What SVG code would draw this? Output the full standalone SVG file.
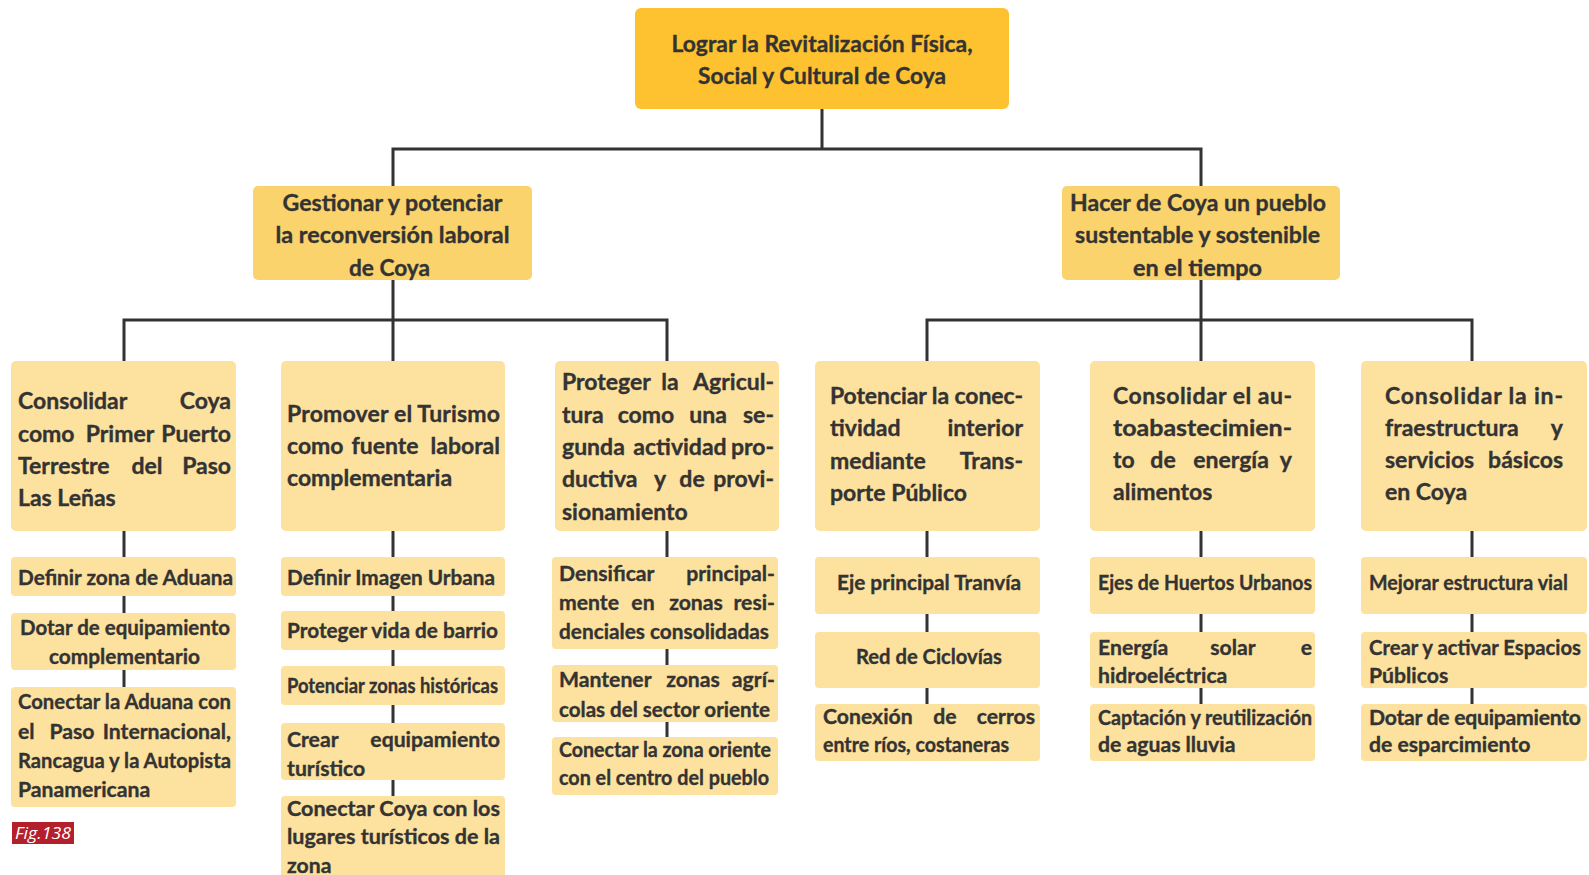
<svg xmlns="http://www.w3.org/2000/svg" width="1589" height="875" viewBox="0 0 1589 875">
<style>
.c0{fill:#FEC230}
.c1{fill:#FBD36C}
.c2{fill:#FDE19E}
text{font-family:Lato,"Open Sans","Liberation Sans",sans-serif;font-weight:700;fill:#333333;stroke:#333333;stroke-width:0.35px}
.s2{font-size:22.5px}
.s3{font-size:23px}
.s4{font-size:21.2px}
.m{text-anchor:middle}
.e{text-anchor:end}
.fig{font-family:"Open Sans","Liberation Sans",sans-serif;font-weight:400;font-style:italic;font-size:17px;fill:#ffffff;stroke:none}
</style>
<rect width="1589" height="875" fill="#ffffff"/>
<g id="connectors" stroke="#333333" stroke-width="3" fill="none">
<path d="M822 109V149M393 186V149H1201V186"/>
<path d="M393 280V320M124 361V320H667V361M393 320V361"/>
<path d="M1201 280V320M927 361V320H1472V361M1201 320V361"/>
<path d="M124 531V687M393 531V796M667 531V737M927 531V704M1201 531V704M1472 531V704"/>
</g>
<g id="goal">
<rect class="c0" x="635" y="8" width="374" height="101" rx="6"/>
<text class="s2 m" x="822" y="52" textLength="301" lengthAdjust="spacingAndGlyphs">Lograr la Revitalización Física,</text>
<text class="s2 m" x="822" y="84" textLength="248" lengthAdjust="spacingAndGlyphs">Social y Cultural de Coya</text>
</g>
<g id="obj-laboral">
<rect class="c1" x="253" y="186" width="279" height="94" rx="5"/>
<text class="s2 m" x="392.5" y="211" textLength="220" lengthAdjust="spacingAndGlyphs">Gestionar y potenciar</text>
<text class="s2 m" x="392.5" y="243" textLength="234" lengthAdjust="spacingAndGlyphs">la reconversión laboral</text>
<text class="s2 m" x="389.5" y="276" textLength="81" lengthAdjust="spacingAndGlyphs">de Coya</text>
</g>
<g id="obj-sustentable">
<rect class="c1" x="1062" y="186" width="278" height="94" rx="5"/>
<text class="s2 m" x="1198" y="211" textLength="256" lengthAdjust="spacingAndGlyphs">Hacer de Coya un pueblo</text>
<text class="s2 m" x="1197.5" y="243" textLength="245" lengthAdjust="spacingAndGlyphs">sustentable y sostenible</text>
<text class="s2 m" x="1197.5" y="276" textLength="129" lengthAdjust="spacingAndGlyphs">en el tiempo</text>
</g>
<g id="a">
<rect class="c2" x="11" y="361" width="225" height="170" rx="5"/>
<text class="s3" x="18" y="409">Consolidar</text><text class="s3 e" x="231" y="409">Coya</text>
<text class="s3" x="18" y="442">como</text><text class="s3 m" x="120" y="442">Primer</text><text class="s3 e" x="231" y="442">Puerto</text>
<text class="s3" x="18" y="474">Terrestre</text><text class="s3 m" x="147" y="474">del</text><text class="s3 e" x="231" y="474">Paso</text>
<text class="s3" x="18" y="506">Las Leñas</text>
</g>
<g id="b">
<rect class="c2" x="281" y="361" width="224" height="170" rx="5"/>
<text class="s3" x="287" y="422" textLength="213" lengthAdjust="spacing">Promover el Turismo</text>
<text class="s3" x="287" y="454">como</text><text class="s3 m" x="385" y="454">fuente</text><text class="s3 e" x="500" y="454">laboral</text>
<text class="s3" x="287" y="486">complementaria</text>
</g>
<g id="c">
<rect class="c2" x="555" y="361" width="224" height="170" rx="5"/>
<text class="s3" x="562" y="390">Proteger</text><text class="s3 m" x="670" y="390">la</text><text class="s3 e" x="774" y="390">Agricul-</text>
<text class="s3" x="562" y="423">tura</text><text class="s3 m" x="646" y="423">como</text><text class="s3 m" x="708" y="423">una</text><text class="s3 e" x="774" y="423">se-</text>
<text class="s3" x="562" y="455">gunda</text><text class="s3 m" x="680" y="455">actividad</text><text class="s3 e" x="774" y="455">pro-</text>
<text class="s3" x="562" y="487">ductiva</text><text class="s3 m" x="660" y="487">y</text><text class="s3 m" x="692" y="487">de</text><text class="s3 e" x="774" y="487">provi-</text>
<text class="s3" x="562" y="520">sionamiento</text>
</g>
<g id="d">
<rect class="c2" x="815" y="361" width="225" height="170" rx="5"/>
<text class="s3" x="830" y="404" textLength="193" lengthAdjust="spacing">Potenciar la conec-</text>
<text class="s3" x="830" y="436">tividad</text><text class="s3 e" x="1023" y="436">interior</text>
<text class="s3" x="830" y="469">mediante</text><text class="s3 e" x="1023" y="469">Trans-</text>
<text class="s3" x="830" y="501">porte Público</text>
</g>
<g id="e">
<rect class="c2" x="1090" y="361" width="225" height="170" rx="5"/>
<text class="s3" x="1113" y="404" textLength="179" lengthAdjust="spacing">Consolidar el au-</text>
<text class="s3" x="1113" y="436" textLength="179" lengthAdjust="spacingAndGlyphs">toabastecimien-</text>
<text class="s3" x="1113" y="468">to</text><text class="s3 m" x="1163" y="468">de</text><text class="s3 m" x="1231" y="468">energía</text><text class="s3 e" x="1292" y="468">y</text>
<text class="s3" x="1113" y="500">alimentos</text>
</g>
<g id="f">
<rect class="c2" x="1361" y="361" width="226" height="170" rx="5"/>
<text class="s3" x="1385" y="404" textLength="178" lengthAdjust="spacing">Consolidar la in-</text>
<text class="s3" x="1385" y="436">fraestructura</text><text class="s3 e" x="1563" y="436">y</text>
<text class="s3" x="1385" y="468">servicios</text><text class="s3 e" x="1563" y="468">básicos</text>
<text class="s3" x="1385" y="500">en Coya</text>
</g>
<g id="a1">
<rect class="c2" x="11" y="557" width="225" height="39" rx="4"/>
<text class="s4" x="18" y="585" textLength="215" lengthAdjust="spacingAndGlyphs">Definir zona de Aduana</text>
</g>
<g id="a2">
<rect class="c2" x="11" y="613" width="225" height="57" rx="4"/>
<text class="s4 m" x="125" y="635" textLength="210" lengthAdjust="spacingAndGlyphs">Dotar de equipamiento</text>
<text class="s4 m" x="124.5" y="664" textLength="151" lengthAdjust="spacingAndGlyphs">complementario</text>
</g>
<g id="a3">
<rect class="c2" x="11" y="687" width="225" height="120" rx="4"/>
<text class="s4" x="18" y="709" textLength="213" lengthAdjust="spacingAndGlyphs">Conectar la Aduana con</text>
<text class="s4" x="18" y="739">el</text><text class="s4 m" x="72" y="739">Paso</text><text class="s4 e" x="231" y="739">Internacional,</text>
<text class="s4" x="18" y="768" textLength="213" lengthAdjust="spacingAndGlyphs">Rancagua y la Autopista</text>
<text class="s4" x="18" y="797">Panamericana</text>
</g>
<g id="b1">
<rect class="c2" x="281" y="557" width="224" height="39" rx="4"/>
<text class="s4" x="287" y="585" textLength="208" lengthAdjust="spacingAndGlyphs">Definir Imagen Urbana</text>
</g>
<g id="b2">
<rect class="c2" x="281" y="611" width="224" height="39" rx="4"/>
<text class="s4" x="287" y="638" textLength="211" lengthAdjust="spacingAndGlyphs">Proteger vida de barrio</text>
</g>
<g id="b3">
<rect class="c2" x="281" y="666" width="224" height="39" rx="4"/>
<text class="s4" x="287" y="693" textLength="211" lengthAdjust="spacingAndGlyphs">Potenciar zonas históricas</text>
</g>
<g id="b4">
<rect class="c2" x="281" y="723" width="224" height="57" rx="4"/>
<text class="s4" x="287" y="747">Crear</text><text class="s4 e" x="500" y="747">equipamiento</text>
<text class="s4" x="287" y="776">turístico</text>
</g>
<g id="b5">
<rect class="c2" x="281" y="796" width="224" height="90" rx="4"/>
<text class="s4" x="287" y="816" textLength="213" lengthAdjust="spacingAndGlyphs">Conectar Coya con los</text>
<text class="s4" x="287" y="844" textLength="213" lengthAdjust="spacingAndGlyphs">lugares turísticos de la</text>
<text class="s4" x="287" y="873">zona</text>
</g>
<g id="c1">
<rect class="c2" x="552" y="557" width="226" height="92" rx="4"/>
<text class="s4" x="559" y="581">Densificar</text><text class="s4 e" x="775" y="581">principal-</text>
<text class="s4" x="559" y="610">mente</text><text class="s4 m" x="643" y="610">en</text><text class="s4 m" x="696" y="610">zonas</text><text class="s4 e" x="775" y="610">resi-</text>
<text class="s4" x="559" y="639" textLength="210" lengthAdjust="spacingAndGlyphs">denciales consolidadas</text>
</g>
<g id="c2">
<rect class="c2" x="552" y="665" width="226" height="57" rx="4"/>
<text class="s4" x="559" y="687">Mantener</text><text class="s4 m" x="693" y="687">zonas</text><text class="s4 e" x="775" y="687">agrí-</text>
<text class="s4" x="559" y="717" textLength="211" lengthAdjust="spacingAndGlyphs">colas del sector oriente</text>
</g>
<g id="c3">
<rect class="c2" x="552" y="737" width="226" height="58" rx="4"/>
<text class="s4" x="559" y="757" textLength="212" lengthAdjust="spacingAndGlyphs">Conectar la zona oriente</text>
<text class="s4" x="559" y="785" textLength="210" lengthAdjust="spacingAndGlyphs">con el centro del pueblo</text>
</g>
<g id="d1">
<rect class="c2" x="815" y="557" width="225" height="57" rx="4"/>
<text class="s4 m" x="929" y="590" textLength="184" lengthAdjust="spacingAndGlyphs">Eje principal Tranvía</text>
</g>
<g id="d2">
<rect class="c2" x="815" y="632" width="225" height="56" rx="4"/>
<text class="s4 m" x="929" y="664" textLength="146" lengthAdjust="spacingAndGlyphs">Red de Ciclovías</text>
</g>
<g id="d3">
<rect class="c2" x="815" y="704" width="225" height="57" rx="4"/>
<text class="s4" x="823" y="724">Conexión</text><text class="s4 m" x="945" y="724">de</text><text class="s4 e" x="1035" y="724">cerros</text>
<text class="s4" x="823" y="752" textLength="186" lengthAdjust="spacingAndGlyphs">entre ríos, costaneras</text>
</g>
<g id="e1">
<rect class="c2" x="1090" y="557" width="225" height="57" rx="4"/>
<text class="s4" x="1098" y="590" textLength="214" lengthAdjust="spacingAndGlyphs">Ejes de Huertos Urbanos</text>
</g>
<g id="e2">
<rect class="c2" x="1090" y="632" width="225" height="56" rx="4"/>
<text class="s4" x="1098" y="655">Energía</text><text class="s4 m" x="1233" y="655">solar</text><text class="s4 e" x="1312" y="655">e</text>
<text class="s4" x="1098" y="683">hidroeléctrica</text>
</g>
<g id="e3">
<rect class="c2" x="1090" y="704" width="225" height="57" rx="4"/>
<text class="s4" x="1098" y="725" textLength="214" lengthAdjust="spacingAndGlyphs">Captación y reutilización</text>
<text class="s4" x="1098" y="752">de aguas lluvia</text>
</g>
<g id="f1">
<rect class="c2" x="1361" y="557" width="226" height="57" rx="4"/>
<text class="s4" x="1369" y="590" textLength="199" lengthAdjust="spacingAndGlyphs">Mejorar estructura vial</text>
</g>
<g id="f2">
<rect class="c2" x="1361" y="632" width="226" height="56" rx="4"/>
<text class="s4" x="1369" y="655" textLength="212" lengthAdjust="spacingAndGlyphs">Crear y activar Espacios</text>
<text class="s4" x="1369" y="683">Públicos</text>
</g>
<g id="f3">
<rect class="c2" x="1361" y="704" width="226" height="57" rx="4"/>
<text class="s4" x="1369" y="725" textLength="212" lengthAdjust="spacing">Dotar de equipamiento</text>
<text class="s4" x="1369" y="752">de esparcimiento</text>
</g>
<g id="fig-label">
<rect x="12" y="822" width="62" height="22" fill="#B31F2B"/>
<text class="fig" x="15" y="839" textLength="56" lengthAdjust="spacingAndGlyphs">Fig.138</text>
</g>
</svg>
